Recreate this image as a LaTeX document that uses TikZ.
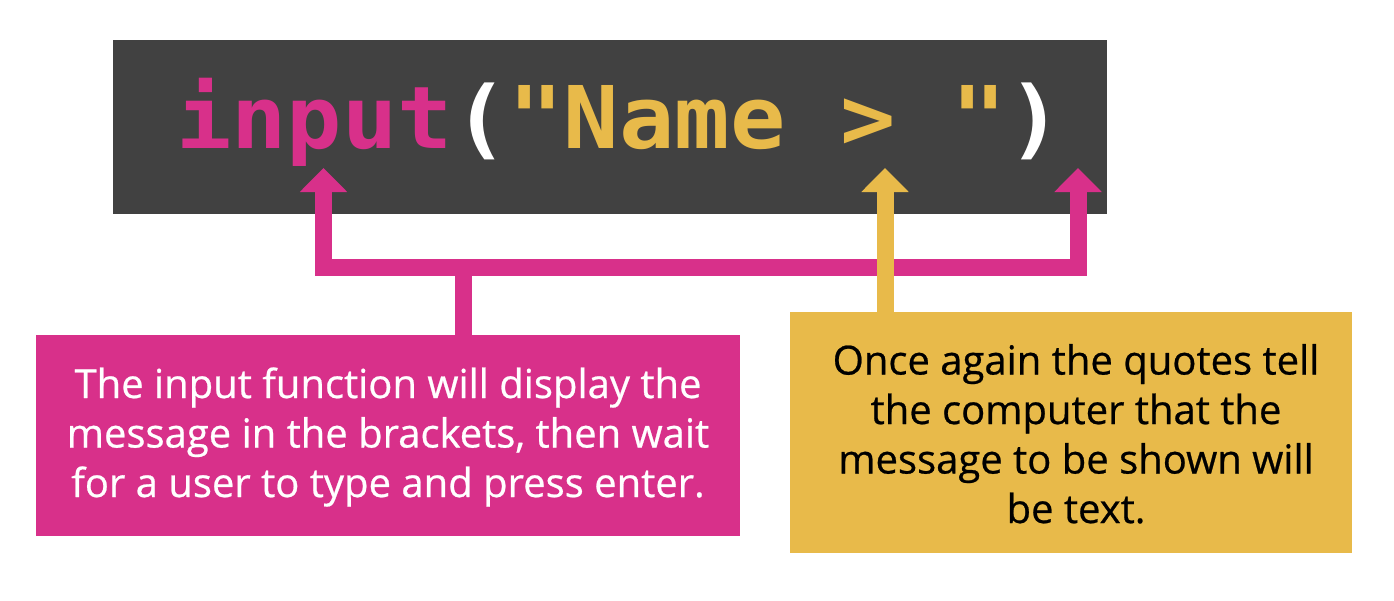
\documentclass[tikz,border=0pt]{standalone}
\usepackage{fontspec}
\usetikzlibrary{arrows.meta}
\newfontfamily\codefont{DejaVu Sans Mono}
\newfontfamily\boxfont{Open Sans}[FakeBold=0.6]
\definecolor{pk}{HTML}{D8308A}
\definecolor{yl}{HTML}{E8BA4A}
\definecolor{dk}{HTML}{414141}
\tikzset{
  pkline/.style={draw=pk, line width=17pt, miter limit=10},
  ylline/.style={draw=yl, line width=17pt},
  tipk/.style={-{Triangle[width=46pt,length=24pt]}},
  textbox/.style={inner sep=0pt, align=center, font=\boxfont\fontsize{40}{49.5}\selectfont},
}
\begin{document}
\begin{tikzpicture}[x=1pt,y=-1pt]
\useasboundingbox (0,0) rectangle (1394,600);
\fill[white] (0,0) rectangle (1394,600);
% code box
\node[fill=dk, minimum width=994pt, minimum height=174pt, inner sep=0pt, anchor=north west] (codebox) at (113,40) {};
\node[anchor=base west, inner sep=0pt] (code) at (176,148) {\scalebox{1}[0.94]{\codefont\bfseries\fontsize{92}{92}\selectfont\textcolor{pk}{input}\textcolor{white}{(}\textcolor{yl}{"Name~>~"}\textcolor{white}{)}}};
% boxes
\node[fill=pk, minimum width=704pt, minimum height=201pt, inner sep=0pt, anchor=north west] (pbox) at (36,335) {};
\node[textbox, text=white, anchor=base] (ptext) at (388,497) {The input function will display the\\message in the brackets, then wait\\for a user to type and press enter.};
\node[fill=yl, minimum width=562pt, minimum height=241pt, inner sep=0pt, anchor=north west] (ybox) at (790,312) {};
\node[textbox, text=black, anchor=base] (ytext) at (1076,523) {Once again the quotes tell\\the computer that the\\message to be shown will\\be text.};
% connectors
\coordinate (tipL) at (323.5,168);
\coordinate (tipR) at (1078,168);
\coordinate (tipY) at (885,168);
\coordinate (jl) at (323.5,267.5);
\coordinate (jr) at (1078,267.5);
\coordinate (stem) at (463.5,267.5);
\draw[pkline, {Triangle[width=46pt,length=24pt]}-{Triangle[width=46pt,length=24pt]}] (tipL) -- (jl) -- (jr) -- (tipR);
\draw[pkline] (stem) -- (stem |- pbox.north);
\draw[ylline, tipk] (tipY |- ybox.north) -- (tipY);
\end{tikzpicture}
\end{document}
